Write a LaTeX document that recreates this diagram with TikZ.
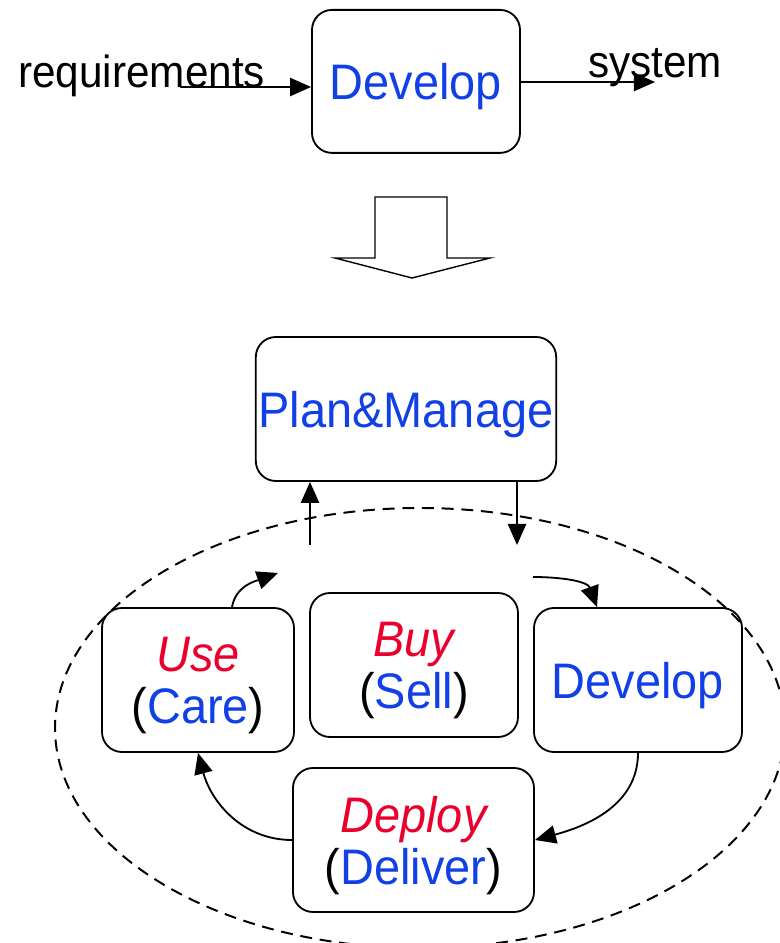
\documentclass[tikz,border=0pt]{standalone}
\usepackage{fontspec}
\setmainfont{Liberation Sans}[FakeStretch=0.94]
\usetikzlibrary{arrows.meta, positioning}
\definecolor{stageblue}{RGB}{16,64,230}
\definecolor{stagered}{RGB}{235,0,45}

\begin{document}
\begin{tikzpicture}[
		>={Triangle[length=15pt,width=13pt]},
		stagebox/.style={draw, line width=1.3pt, rounded corners=0.5cm, align=center, inner sep=2pt,
			text depth=-3pt, font=\fontsize{35.5}{37}\selectfont},
		flowlabel/.style={font=\fontsize{32}{34}\selectfont, inner sep=0pt},
		link/.style={->, line width=1.3pt}
	]
		\useasboundingbox (0,0) rectangle (19.475,23.575);

		% the old view: one box
		\node[stagebox, minimum width=5.2cm, minimum height=3.575cm] (dev) at (10.4,21.54) {\textcolor{stageblue}{Develop}};
		\node[flowlabel, anchor=base west] (req) at (0.45,21.375) {requirements};
		\node[flowlabel, anchor=base west] (sys) at (14.7,21.625) {system};
		\coordinate (reqin) at (4.5,21.4);
		\coordinate (sysout) at (16.375,21.525);
		\draw [link] (reqin) -- (reqin -| dev.west);
		\draw [link] (dev.east |- sysout) -- (sysout);

		% big hollow arrow
		\draw [line width=1pt] (9.375,18.65) -- (11.175,18.65) -- (11.175,17.125) -- (12.25,17.125)
			-- (10.3,16.625) -- (8.375,17.125) -- (9.375,17.125) -- cycle;

		% the new view: a cycle of stages
		\node[stagebox, minimum width=7.2cm, minimum height=3.6cm] (plan) at (10.15,13.35) {\textcolor{stageblue}{Plan\&Manage}};
		\draw [line width=1.4pt, dash pattern=on 8.5pt off 5.5pt] (10.5,5.375) ellipse (9.125cm and 5.5cm);

		\node[stagebox, minimum width=4.8cm, minimum height=3.6cm] (use) at (4.95,6.575)
			{\textcolor{stagered}{\itshape Use}\\(\textcolor{stageblue}{Care})};
		\node[stagebox, minimum width=5.2cm, minimum height=3.6cm] (buy) at (10.35,6.95)
			{\textcolor{stagered}{\itshape Buy}\\(\textcolor{stageblue}{Sell})};
		\node[stagebox, minimum width=5.2cm, minimum height=3.6cm] (build) at (15.95,6.575) {\textcolor{stageblue}{Develop}};
		\node[stagebox, minimum width=6.025cm, minimum height=3.6cm] (deploy) at (10.3375,2.575)
			{\textcolor{stagered}{\itshape Deploy}\\(\textcolor{stageblue}{Deliver})};

		\coordinate (upfrom) at (7.75,9.95);
		\coordinate (downto) at (12.925,9.95);
		\draw [link] (upfrom) -- (upfrom |- plan.south);
		\draw [link] (downto |- plan.south) -- (downto);

		\coordinate (usetip) at (6.95,9.25);
		\coordinate (buildfrom) at (13.325,9.15);
		\draw [link] ([xshift=0.85cm]use.north) to[out=80, in=200] (usetip);
		\draw [link] (buildfrom) to[out=0, in=110] ([xshift=-1.025cm]build.north);
		\draw [link] (build.south) to[out=-90, in=15] (deploy.east);
		\draw [link] (deploy.west) to[out=180, in=-75] (use.south);
	\end{tikzpicture}
\end{document}
